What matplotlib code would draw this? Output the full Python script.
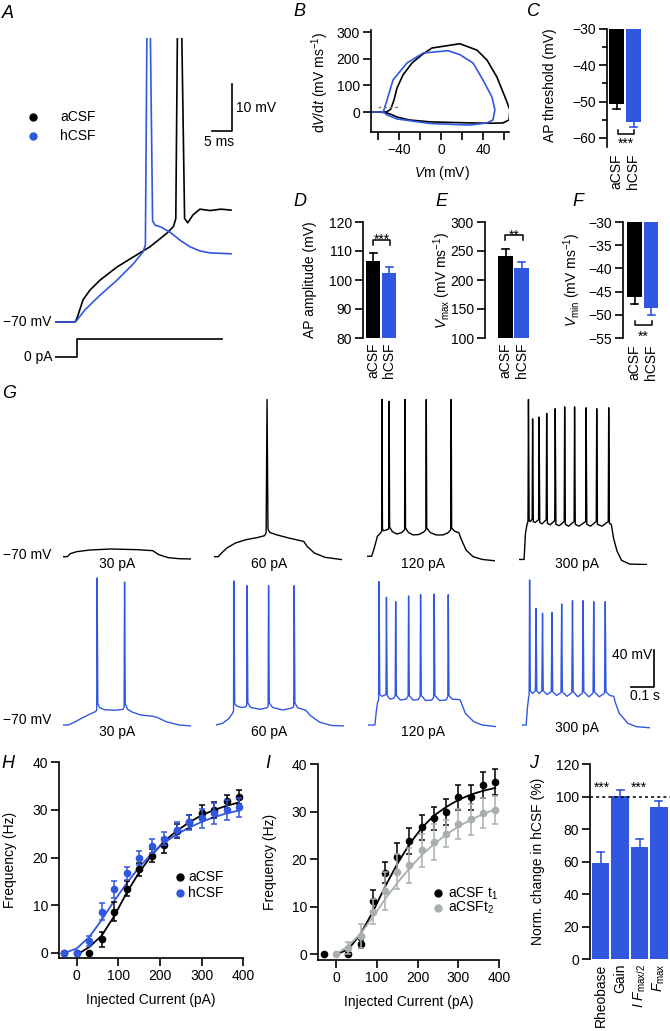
import matplotlib.pyplot as plt

plt.rcParams['font.family'] = ['Liberation Sans', 'DejaVu Sans']
plt.rcParams['font.size'] = 10
plt.rcParams['mathtext.fontset'] = 'custom'
plt.rcParams['mathtext.rm'] = 'Liberation Sans'
plt.rcParams['mathtext.it'] = 'Liberation Sans:italic'
plt.rcParams['mathtext.bf'] = 'Liberation Sans:bold'
plt.rcParams['axes.linewidth'] = 1.2
for ax_ in ('xtick', 'ytick'):
    plt.rcParams[ax_ + '.major.width'] = 1.2
    plt.rcParams[ax_ + '.minor.width'] = 1.2
    plt.rcParams[ax_ + '.major.size'] = 5.5
    plt.rcParams[ax_ + '.minor.size'] = 3.5
    plt.rcParams[ax_ + '.major.pad'] = 2.5
    plt.rcParams[ax_ + '.labelsize'] = 10

BLUE = '#3157e0'
GREY = '#a9afaf'

# ---------------- data ----------------
# A: first action potential (ms, mV)
a_t_acsf = [0, 5.0, 5.5, 7.0, 8.75, 11.25, 15.5, 19.5, 23.75, 28.0, 29.6, 30.2, 31.0, 32.4, 33.2, 34.5, 36.25, 38.75, 41.5, 44.0]
a_v_acsf = [-70, -70, -69.2, -65.3, -63.2, -61.1, -58.3, -56.2, -54.0, -51.1, -49.7, -48.0, 30, -48.0, -48.9, -47.2, -46.0, -46.3, -46.0, -46.2]
a_t_hcsf = [0, 5.0, 5.5, 7.5, 11.25, 15.5, 19.5, 22.0, 22.6, 23.3, 24.0, 24.4, 25.0, 26.5, 28.75, 31.25, 33.75, 36.25, 38.75, 44.0]
a_v_hcsf = [-70, -70, -69.6, -67.4, -64.3, -61.1, -57.7, -55.1, -53.6, 30, -20, -48.5, -49.4, -49.8, -50.9, -52.6, -54.0, -54.9, -55.3, -55.5]
a_t_stim = [0, 5.5, 5.5, 41.75]
a_i_stim = [0, 0, 1, 1]

# B: phase plots (mV, mV/ms)
b_v_acsf = [-66.7, -52, -48, -44.8, -41.9, -36.2, -27.6, -18, -8.6, 18, 34.3, 43.8, 53.3, 61, 65.7, 64.8, 59, 49.5, 27.6, -10.5, -30, -41.9, -47, -51.4, -58]
b_d_acsf = [0, 0, 10, 45, 90, 139, 184, 215, 240, 256, 232, 195, 131, 56, 7.5, -30, -41, -42, -41, -37, -30, -19, -10, -4, 0]
b_v_hcsf = [-66.7, -55, -51.4, -45.7, -32.4, -17, 6.7, 18, 30.5, 40, 48.6, 51.4, 49.5, 43.8, 27.6, -10.5, -42, -51.4, -55]
b_d_hcsf = [0, 0, 45, 120, 184, 221, 230, 215, 184, 120, 56, 7.5, -30, -41, -49, -43, -26, -11, 0]
b_thr_v = [-60, -41]
b_thr_d = [19, 19]

groups = ['aCSF', 'hCSF']
c_thresh = [-50.7, -55.6]
c_thresh_err = [1.3, 1.4]
d_amp = [106.6, 102.4]
d_amp_err = [2.7, 2.1]
e_vmax = [241.4, 220.7]
e_vmax_err = [12.0, 10.3]
f_vmin = [-46.2, -48.5]
f_vmin_err = [1.5, 1.5]

# G: firing traces (s, mV)
g_currents = ['30 pA', '60 pA', '120 pA', '300 pA']
g_acsf_30 = [(0, -70), (0.019, -70), (0.031, -66.8), (0.059, -64.6), (0.115, -62.8), (0.207, -61.7), (0.319, -62.4),
             (0.389, -63.5), (0.415, -67.8), (0.457, -71.1), (0.504, -72.2), (0.554, -72.5)]
g_acsf_60 = [(0, -70), (0.0185, -70), (0.033, -66), (0.056, -60.6), (0.093, -55.2), (0.139, -51.6), (0.185, -49.5),
             (0.219, -47.3), (0.226, -44.4), (0.230, 100), (0.234, -40), (0.241, -43.7), (0.269, -46.2), (0.324, -49.8),
             (0.389, -53.5), (0.404, -58.9), (0.435, -66), (0.481, -70.7), (0.556, -73.2)]
g_acsf_120 = [(0, -69.5), (0.02, -69.5), (0.03, -62), (0.045, -48), (0.06, -44), (0.064, -42), (0.065, 100), (0.067, -40),
              (0.072, -42), (0.085, -41), (0.094, -40), (0.096, 98), (0.098, -38), (0.11, -43), (0.13, -45.5), (0.15, -44),
              (0.163, -41), (0.165, 100), (0.167, -39), (0.18, -44), (0.2, -46.5), (0.225, -46), (0.245, -43.5),
              (0.255, -41), (0.257, 100), (0.259, -39), (0.275, -44), (0.3, -46.5), (0.33, -46.5), (0.352, -44),
              (0.363, -41), (0.365, 100), (0.367, -39), (0.38, -42.5), (0.398, -44), (0.41, -52), (0.43, -63),
              (0.46, -70), (0.5, -73), (0.556, -74.5)]
g_acsf_300 = [(0, -73), (0.022, -73), (0.028, -45), (0.034, -36), (0.039, -32), (0.041, 100), (0.044, -31), (0.05, -32),
              (0.057, -29), (0.059, 79), (0.062, -32), (0.07, -33), (0.085, -30), (0.087, 81), (0.09, -33), (0.1, -34.5),
              (0.118, -30), (0.12, 85), (0.123, -34), (0.135, -35.5), (0.155, -31), (0.157, 90), (0.16, -35),
              (0.175, -36.5), (0.196, -32), (0.198, 92), (0.201, -35), (0.215, -37), (0.239, -32), (0.241, 92),
              (0.244, -35), (0.26, -37), (0.289, -32), (0.291, 91), (0.294, -35), (0.31, -37), (0.335, -32), (0.337, 90),
              (0.34, -35), (0.36, -37), (0.387, -32), (0.389, 91), (0.392, -34), (0.4, -35), (0.41, -50), (0.425, -64),
              (0.445, -74), (0.48, -78), (0.556, -78.5)]
g_hcsf_30 = [(0, -70), (0.022, -70), (0.05, -67), (0.078, -63), (0.11, -59), (0.14, -55.6), (0.146, -54), (0.148, 89),
             (0.151, -47), (0.158, -51), (0.18, -53.5), (0.23, -54), (0.26, -53), (0.265, -51), (0.267, 84.6), (0.27, -47),
             (0.28, -53), (0.3, -56), (0.337, -59.2), (0.39, -60.5), (0.41, -62), (0.448, -66.5), (0.504, -70),
             (0.554, -71)]
g_hcsf_60 = [(0, -70), (0.028, -68.2), (0.056, -63), (0.07, -58), (0.076, -55), (0.078, 85.7), (0.081, -47), (0.09, -49.5),
             (0.11, -51), (0.128, -50.5), (0.133, -49), (0.135, 80.6), (0.138, -46), (0.15, -51), (0.19, -53),
             (0.22, -51.5), (0.226, -50), (0.228, 80.6), (0.231, -46), (0.245, -51), (0.29, -53.8), (0.33, -51.5),
             (0.337, -50), (0.339, 80.6), (0.342, -46), (0.355, -51.5), (0.389, -54), (0.41, -60), (0.45, -67),
             (0.5, -70.5), (0.556, -71)]
g_hcsf_120 = [(0, -70), (0.03, -70), (0.036, -55), (0.042, -45), (0.046, -43), (0.048, 85), (0.051, -37), (0.06, -39),
              (0.078, -37), (0.08, 68), (0.083, -38), (0.095, -42), (0.112, -41), (0.118, -38), (0.12, 63.3),
              (0.123, -38), (0.14, -43), (0.165, -42), (0.174, -39), (0.176, 69.5), (0.179, -38), (0.195, -43),
              (0.218, -42.5), (0.226, -39), (0.228, 70.9), (0.231, -38), (0.25, -43.5), (0.277, -43), (0.285, -39.5),
              (0.287, 71.6), (0.29, -38), (0.31, -43.5), (0.338, -43), (0.346, -39.5), (0.348, 70.9), (0.351, -38),
              (0.365, -42), (0.395, -42.5), (0.4, -43), (0.422, -57.4), (0.459, -66.5), (0.496, -70), (0.556, -71.8)]
g_hcsf_300 = [(0, -70), (0.018, -70), (0.024, -50), (0.029, -40), (0.031, -38), (0.033, 86.8), (0.036, -33), (0.045, -36),
              (0.058, -33), (0.061, 56), (0.064, -33), (0.075, -36), (0.086, -33), (0.089, 50.8), (0.092, -33),
              (0.108, -37), (0.127, -34), (0.13, 51.8), (0.133, -34), (0.15, -38), (0.169, -35), (0.172, 60.8),
              (0.175, -34), (0.195, -39), (0.216, -35), (0.219, 64.4), (0.222, -34), (0.242, -39.5), (0.262, -35.5),
              (0.265, 64.4), (0.268, -34), (0.29, -39.5), (0.308, -35.5), (0.311, 63.3), (0.314, -34), (0.335, -39.5),
              (0.358, -35.5), (0.361, 63.3), (0.364, -34), (0.38, -38), (0.398, -39), (0.405, -46), (0.422, -57.4),
              (0.459, -68.2), (0.496, -71.8), (0.554, -73)]

# H: f-I curves aCSF vs hCSF
h_i = [-30, 0, 30, 60, 90, 120, 150, 180, 210, 240, 270, 300, 330, 360, 390]
h_f_acsf = [0, 0, 0, 2.8, 8.6, 13.5, 17.5, 20.4, 22.6, 25.6, 27.5, 29.4, 30.0, 31.8, 32.7]
h_e_acsf = [0, 0, 0, 1.5, 2.0, 1.5, 1.3, 1.3, 1.6, 1.5, 1.5, 1.6, 1.6, 1.4, 1.5]
h_f_hcsf = [0, 0, 2.5, 8.6, 13.3, 16.7, 19.9, 22.4, 24.0, 25.9, 27.4, 28.3, 29.3, 30.0, 30.6]
h_e_hcsf = [0, 0, 1.1, 1.8, 1.8, 1.4, 1.5, 1.4, 1.3, 1.5, 1.5, 2.0, 2.2, 2.0, 2.0]
h_fit_i_acsf = [8, 30, 60, 90, 120, 150, 180, 210, 240, 270, 300, 330, 360, 390]
h_fit_acsf = [0, 1.2, 3.6, 7.7, 12.6, 16.9, 20.5, 23.4, 25.6, 27.4, 28.9, 30.0, 30.9, 31.6]
h_fit_i_hcsf = [-28, 0, 30, 60, 90, 120, 150, 180, 210, 240, 270, 300, 330, 360, 390]
h_fit_hcsf = [0, 0.9, 3.3, 6.9, 10.9, 14.6, 18.0, 20.8, 23.1, 24.9, 26.3, 27.5, 28.5, 29.3, 29.9]

# I: f-I curves aCSF t1 vs aCSF t2
i_i_t1 = [-30, 30, 60, 90, 120, 150, 180, 210, 240, 270, 300, 330, 360, 390]
i_f_t1 = [0, 0, 2.2, 11.3, 17.2, 20.4, 23.9, 26.7, 28.6, 30.0, 33.0, 33.0, 35.6, 36.3]
i_e_t1 = [0, 0.3, 0.9, 2.2, 2.2, 3.0, 2.7, 2.7, 2.4, 2.7, 2.7, 2.6, 2.7, 2.7]
i_i_t2 = [0, 30, 60, 90, 120, 150, 180, 210, 240, 270, 300, 330, 360, 390]
i_f_t2 = [0, 1.3, 3.9, 9.0, 13.4, 17.4, 18.7, 21.9, 23.7, 25.4, 27.4, 28.4, 29.7, 30.4]
i_e_t2 = [0, 1.2, 2.5, 2.6, 4.0, 3.7, 3.6, 3.5, 3.8, 2.8, 3.2, 3.3, 3.2, 3.0]
i_fit_i = [0, 30, 60, 90, 120, 150, 180, 210, 240, 270, 300, 330, 360, 390]
i_fit_t1 = [0, 1.0, 4.3, 8.9, 14.2, 19.0, 23.2, 26.6, 29.2, 31.0, 32.5, 33.6, 34.4, 35.0]
i_fit_t2 = [0, 1.8, 4.3, 7.8, 11.6, 15.0, 18.1, 20.9, 23.2, 25.2, 26.9, 28.3, 29.5, 30.5]

# J: normalised change in hCSF
j_params = ['Rheobase', 'Gain', r'$I$ $F_{\mathrm{max/2}}$', r'$F_{\mathrm{max}}$']
j_change = [59.0, 100.6, 69.2, 93.8]
j_change_err = [7.1, 3.4, 4.8, 3.5]

# ---------------- figure ----------------
W, H = 670, 1031
fig = plt.figure(figsize=(W / 100, H / 100), dpi=100)


def px_axes(l, t, r, b):
    return fig.add_axes([l / W, 1 - b / H, (r - l) / W, (b - t) / H])


def fx(x, y):
    return x / W, 1 - y / H


def panel(letter, x, y):
    fig.text(*fx(x, y), letter, fontsize=13, style='italic', ha='center', va='center')


def ylab(ax, text, x, y):
    ax.set_ylabel(text, va='center', ha='center')
    ax.yaxis.set_label_coords(*fx(x, y), transform=fig.transFigure)


def xlab(ax, text, x, y):
    ax.set_xlabel(text, va='center', ha='center')
    ax.xaxis.set_label_coords(*fx(x, y), transform=fig.transFigure)


def clean(ax, bottom=True, pad=3):
    ax.spines['top'].set_visible(False)
    ax.spines['right'].set_visible(False)
    if not bottom:
        ax.spines['bottom'].set_visible(False)
        ax.tick_params(axis='x', length=0, pad=pad)


def bar_err(ax, xs, vals, errs, colors, down=False):
    for x, v, e, c in zip(xs, vals, errs, colors):
        end = v - e if down else v + e
        ax.plot([x, x], [v, end], color=c, lw=1.2, clip_on=False, zorder=1)
        ax.plot([x - 3.5, x + 3.5], [end, end], color=c, lw=1.2, clip_on=False, zorder=1)


def bracket(ax, x0, x1, y, yend):
    ax.plot([x0, x0, x1, x1], [yend, y, y, yend], color='black', lw=1.1, clip_on=False)


# ---- A ----
panel('A', 8, 13)
axA = px_axes(55, 38, 240, 330)
axA.plot(a_t_acsf, a_v_acsf, color='black', lw=1.2)
axA.plot(a_t_hcsf, a_v_hcsf, color=BLUE, lw=1.2)
axA.set_xlim(0, 46.25)
axA.set_ylim(-71.7, -9.6)
axA.axis('off')
axA.plot([44.25, 44.25, 39.25], [-19.4, -29.4, -29.4], color='black', lw=1.2, clip_on=False)
axA.text(45.2, -24.4, '10 mV', va='center', ha='left')
axA.text(41.0, -31.7, '5 ms', va='center', ha='center')
axA.plot([-5.5], [-26.4], 'o', color='black', ms=5, clip_on=False)
axA.plot([-5.5], [-30.4], 'o', color=BLUE, ms=5, clip_on=False)
axA.text(1.25, -26.4, 'aCSF', va='center')
axA.text(1.25, -30.4, 'hCSF', va='center')
fig.text(*fx(51, 322), '\u221270 mV', ha='right', va='center')

axS = px_axes(55, 335, 240, 362)
axS.plot(a_t_stim, a_i_stim, color='black', lw=1.2)
axS.set_xlim(0, 46.25)
axS.set_ylim(-0.278, 1.222)
axS.axis('off')
fig.text(*fx(53, 357), '0 pA', ha='right', va='center')

# ---- B ----
panel('B', 299, 12)
axB = px_axes(371, 30, 509, 132)
axB.plot(b_v_acsf, b_d_acsf, color='black', lw=1.2)
axB.plot(b_v_hcsf, b_d_hcsf, color=BLUE, lw=1.2)
axB.plot(b_thr_v, b_thr_d, color='#777777', lw=1, ls=(0, (2, 2)))
axB.set_xlim(-66.7, 64.8)
axB.set_ylim(-75, 307.5)
axB.set_yticks([0, 100, 200, 300])
axB.set_xticks([-60, -40, -20, 0, 20, 40, 60], ['', '\u221240', '', '0', '', '40', ''])
clean(axB)
ylab(axB, r'd$V$/d$t$ (mV ms$^{-1}$)', 320, 82)
xlab(axB, r'$V$m (mV)', 442, 173)

# ---- C ----
panel('C', 533, 12)
axC = px_axes(607, 29, 645, 147)
axC.bar([9.8, 26.5], [v + 30 for v in c_thresh], bottom=-30, width=15, color=['black', BLUE])
bar_err(axC, [9.8, 26.5], c_thresh, c_thresh_err, ['black', BLUE], down=True)
axC.set_xlim(0, 38)
axC.set_ylim(-62.5, -30)
axC.set_yticks([-30, -40, -50, -60])
axC.set_yticks([-35, -45, -55], minor=True)
axC.set_xticks([9.8, 26.5], groups, rotation=90, va='top', ha='center')
clean(axC, bottom=False, pad=5)
bracket(axC, 11.3, 27, -59.0, -57.8)
axC.text(19, -62.6, '***', ha='center', va='baseline', clip_on=False)
ylab(axC, 'AP threshold (mV)', 550, 85)

# ---- D ----
panel('D', 300, 202)
axD = px_axes(363, 222, 400, 338)
axD.bar([10.3, 26.2], [v - 80 for v in d_amp], bottom=80, width=14, color=['black', BLUE])
bar_err(axD, [10.3, 26.2], d_amp, d_amp_err, ['black', BLUE])
axD.set_xlim(0, 37)
axD.set_ylim(80, 120)
axD.set_yticks([80, 90, 100, 110, 120])
axD.set_xticks([10.3, 26.2], groups, rotation=90, va='top', ha='center')
clean(axD, bottom=False)
bracket(axD, 10.3, 27, 113.8, 112.1)
axD.text(18.7, 112.4, '***', ha='center', va='baseline', clip_on=False)
ylab(axD, 'AP amplitude (mV)', 310, 280)

# ---- E ----
panel('E', 441, 202)
axE = px_axes(485, 222, 532, 338)
axE.bar([20.5, 36.8], [v - 100 for v in e_vmax], bottom=100, width=15, color=['black', BLUE])
bar_err(axE, [20.5, 36.8], e_vmax, e_vmax_err, ['black', BLUE])
axE.set_xlim(0, 47)
axE.set_ylim(100, 300)
axE.set_yticks([100, 150, 200, 250, 300])
axE.set_xticks([20.5, 36.8], groups, rotation=90, va='top', ha='center')
clean(axE, bottom=False)
bracket(axE, 20.3, 38.3, 277.6, 269)
axE.text(29.3, 269.8, '**', ha='center', va='baseline', clip_on=False)
ylab(axE, r'$V_{\mathrm{max}}$ (mV ms$^{-1}$)', 442, 280)

# ---- F ----
panel('F', 578, 202)
axF = px_axes(623, 222, 660, 338)
axF.bar([11.7, 28], [v + 30 for v in f_vmin], bottom=-30, width=14.5, color=['black', BLUE])
bar_err(axF, [11.7, 28], f_vmin, f_vmin_err, ['black', BLUE], down=True)
axF.set_xlim(0, 37)
axF.set_ylim(-55, -30)
axF.set_yticks([-30, -35, -40, -45, -50, -55])
axF.set_xticks([11.7, 28], groups, rotation=90, va='top', ha='center')
clean(axF, bottom=False, pad=5)
bracket(axF, 12, 28.7, -52.2, -51.3)
axF.text(20.3, -55.6, '**', ha='center', va='baseline', clip_on=False)
ylab(axF, r'$V_{\mathrm{min}}$ (mV ms$^{-1}$)', 572, 280)

# ---- G ----
panel('G', 9, 394)
top_lefts = [63, 214, 367, 519]
bot_lefts = [63, 216, 368, 522]
top_traces = [g_acsf_30, g_acsf_60, g_acsf_120, g_acsf_300]
bot_traces = [g_hcsf_30, g_hcsf_60, g_hcsf_120, g_hcsf_300]
label_x = [117.5, 269, 423, 577]
for k in range(4):
    ax = px_axes(top_lefts[k], 393, top_lefts[k] + 128, 565)
    t, v = zip(*top_traces[k])
    ax.plot(t, v, color='black', lw=1.0)
    ax.set_xlim(0, 0.555)
    ax.set_ylim(-79, 107)
    ax.axis('off')
    fig.text(*fx(label_x[k], 564), g_currents[k], ha='center', va='center')

    ax = px_axes(bot_lefts[k], 570, bot_lefts[k] + 128, 735)
    t, v = zip(*bot_traces[k])
    ax.plot(t, v, color=BLUE, lw=1.0)
    ax.set_xlim(0, 0.555)
    ax.set_ylim(-80.8, 97.6)
    ax.axis('off')
    fig.text(*fx(label_x[k], 728 if k == 3 else 732), g_currents[k], ha='center', va='center')
    if k == 3:
        ax.plot([0.472, 0.572, 0.572], [-28.9, -28.9, 11.1], color='black', lw=1.2, clip_on=False)
        ax.text(0.564, 5.7, '40 mV', ha='right', va='center')
        ax.text(0.533, -30.8, '0.1 s', ha='center', va='top')
fig.text(*fx(51, 555), '\u221270 mV', ha='right', va='center')
fig.text(*fx(51, 720), '\u221270 mV', ha='right', va='center')

# ---- H ----
panel('H', 8, 763)
axH = px_axes(59, 762.4, 243.3, 958)
axH.plot(h_fit_i_acsf, h_fit_acsf, color='black', lw=1.3)
axH.plot(h_fit_i_hcsf, h_fit_hcsf, color=BLUE, lw=1.3)
axH.errorbar(h_i, h_f_acsf, yerr=h_e_acsf, fmt='o', color='black', ms=4.5, capsize=2.5,
             elinewidth=1.1, capthick=1.1, clip_on=False, zorder=3)
axH.errorbar(h_i, h_f_hcsf, yerr=h_e_hcsf, fmt='o', color=BLUE, ms=4.5, capsize=2.5,
             elinewidth=1.1, capthick=1.1, clip_on=False, zorder=4)
axH.set_xlim(-42.5, 400)
axH.set_ylim(-1.1, 40)
axH.set_xticks([0, 100, 200, 300, 400])
axH.set_yticks([0, 10, 20, 30, 40])
clean(axH)
axH.plot([248], [15.9], 'o', color='black', ms=5, clip_on=False)
axH.plot([248], [12.6], 'o', color=BLUE, ms=5, clip_on=False)
axH.text(268, 15.9, 'aCSF', va='center')
axH.text(268, 12.6, 'hCSF', va='center')
ylab(axH, 'Frequency (Hz)', 10, 860)
xlab(axH, 'Injected Current (pA)', 151, 1000)

# ---- I ----
panel('I', 268, 763)
axI = px_axes(318.3, 764.2, 499.3, 960)
axI.plot(i_fit_i, i_fit_t1, color='black', lw=1.3)
axI.plot(i_fit_i, i_fit_t2, color=GREY, lw=1.3)
axI.errorbar(i_i_t1, i_f_t1, yerr=i_e_t1, fmt='o', color='black', ms=4.5, capsize=2.5,
             elinewidth=1.1, capthick=1.1, clip_on=False, zorder=3)
axI.errorbar(i_i_t2, i_f_t2, yerr=i_e_t2, fmt='o', color=GREY, ms=4.5, capsize=2.5,
             elinewidth=1.1, capthick=1.1, clip_on=False, zorder=4)
axI.set_xlim(-43.4, 400)
axI.set_ylim(-1.2, 40)
axI.set_xticks([0, 100, 200, 300, 400])
axI.set_yticks([0, 10, 20, 30, 40])
clean(axI)
axI.plot([250.7], [12.8], 'o', color='black', ms=5, clip_on=False)
axI.plot([250.7], [9.7], 'o', color=GREY, ms=5, clip_on=False)
axI.text(275, 12.8, r'aCSF t$_1$', va='center')
axI.text(275, 9.7, r'aCSFt$_2$', va='center')
ylab(axI, 'Frequency (Hz)', 270, 862)
xlab(axI, 'Injected Current (pA)', 409, 1002)

# ---- J ----
panel('J', 534, 763)
axJ = px_axes(590, 764, 670, 959.3)
j_x = [10.5, 30, 49.5, 68.7]
axJ.bar(j_x, j_change, width=17.6, color=BLUE)
bar_err(axJ, j_x, j_change, j_change_err, [BLUE] * 4)
axJ.axhline(100, color='black', lw=1.1, ls=(0, (2, 2)), zorder=5)
axJ.set_xlim(0, 80)
axJ.set_ylim(0, 120)
axJ.set_yticks([0, 20, 40, 60, 80, 100, 120])
axJ.set_xticks(j_x, j_params, rotation=90, va='top', ha='center')
clean(axJ, bottom=False)
axJ.text(11.7, 102.8, '***', ha='center', va='baseline')
axJ.text(49, 102.8, '***', ha='center', va='baseline')
ylab(axJ, 'Norm. change in hCSF (%)', 538, 861)

fig.savefig('out.png', dpi=100)
